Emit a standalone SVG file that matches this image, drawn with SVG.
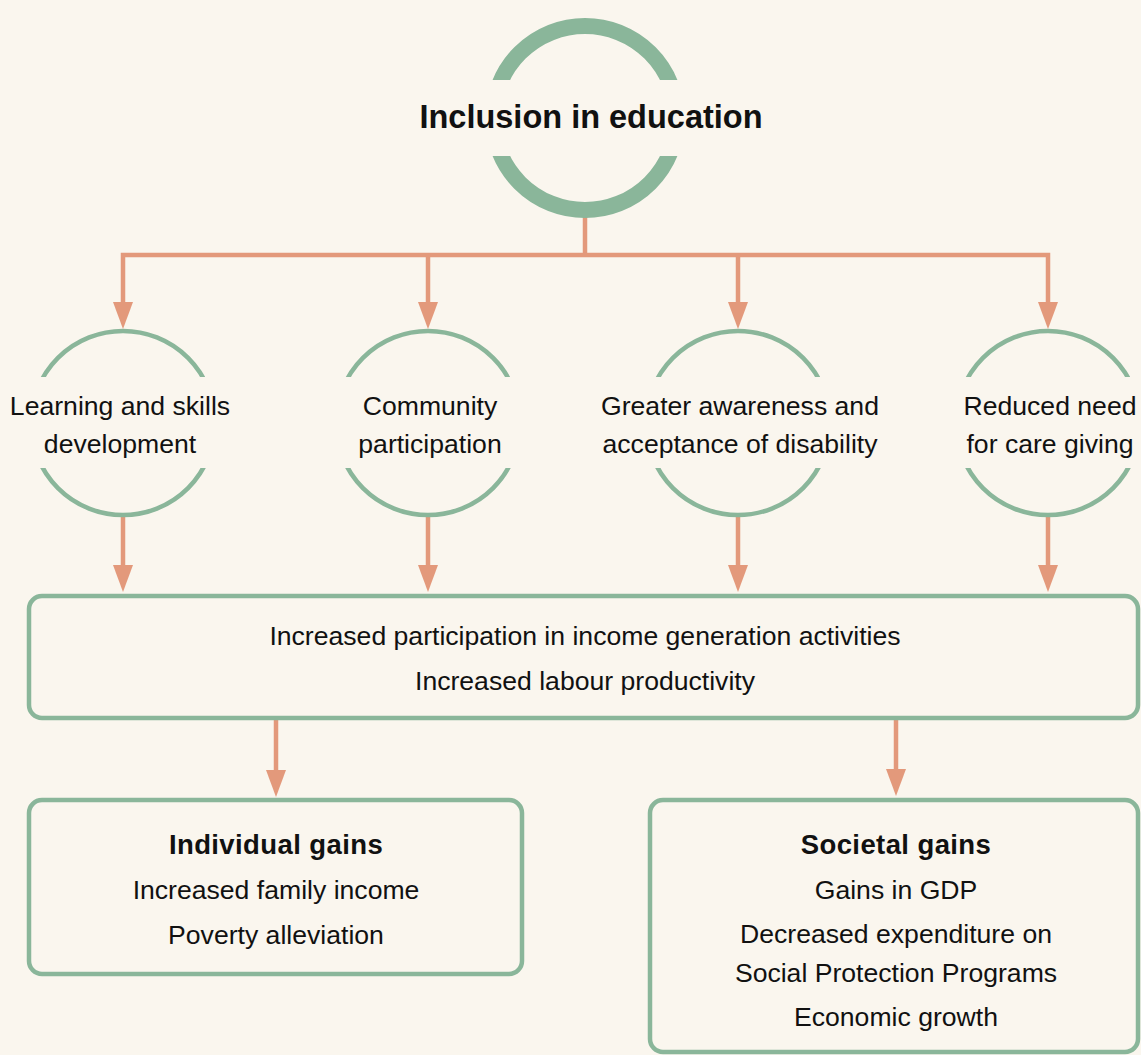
<svg xmlns="http://www.w3.org/2000/svg" width="1141" height="1055" viewBox="0 0 1141 1055">
<style>
.bg{fill:#FAF6EE}
.ring{fill:none;stroke:#8AB69A}
.box{fill:none;stroke:#8AB69A;stroke-width:4.5}
.conn{fill:none;stroke:#E3997B;stroke-width:4.5;stroke-linejoin:miter}
.t{font-family:"Liberation Sans",Arial,sans-serif;font-size:26.6px;fill:#111;text-anchor:middle}
.b{font-weight:bold;font-size:27.5px;letter-spacing:0.4px}
.title{font-family:"Liberation Sans",Arial,sans-serif;font-size:32.5px;font-weight:bold;fill:#111;text-anchor:middle}
</style>
<defs>
<clipPath id="clipBig" clipPathUnits="userSpaceOnUse">
<rect x="0" y="0" width="1141" height="80"/>
<rect x="0" y="156" width="1141" height="100"/>
</clipPath>
<clipPath id="clipSmall" clipPathUnits="userSpaceOnUse">
<rect x="0" y="300" width="1141" height="77"/>
<rect x="0" y="468" width="1141" height="80"/>
</clipPath>
<marker id="arr" viewBox="0 0 27 20" refX="17" refY="10" markerWidth="27" markerHeight="20" markerUnits="userSpaceOnUse" orient="auto">
<path d="M0 0 L27 10 L0 20 Z" fill="#E3997B"/>
</marker>
</defs>
<rect class="bg" x="0" y="0" width="1141" height="1055"/>

<g id="connectors">
<path class="conn" d="M585 217 V255"/>
<path class="conn" d="M585 255 H123 V319" marker-end="url(#arr)"/>
<path class="conn" d="M585 255 H1048 V319" marker-end="url(#arr)"/>
<path class="conn" d="M428 255 V319" marker-end="url(#arr)"/>
<path class="conn" d="M738 255 V319" marker-end="url(#arr)"/>
<path class="conn" d="M123 517 V582" marker-end="url(#arr)"/>
<path class="conn" d="M428 517 V582" marker-end="url(#arr)"/>
<path class="conn" d="M738 517 V582" marker-end="url(#arr)"/>
<path class="conn" d="M1048 517 V582" marker-end="url(#arr)"/>
<path class="conn" d="M276 720 V787" marker-end="url(#arr)"/>
<path class="conn" d="M896 720 V786" marker-end="url(#arr)"/>
</g>

<g id="inclusion">
<circle class="ring" cx="585" cy="118" r="92" stroke-width="16" clip-path="url(#clipBig)"/>
<text class="title" x="591" y="128">Inclusion in education</text>
</g>

<g id="learning">
<circle class="ring" cx="123" cy="423" r="92" stroke-width="4.5" clip-path="url(#clipSmall)"/>
<text class="t" x="120" y="415">Learning and skills</text>
<text class="t" x="120" y="453">development</text>
</g>

<g id="community">
<circle class="ring" cx="428" cy="423" r="92" stroke-width="4.5" clip-path="url(#clipSmall)"/>
<text class="t" x="430" y="415">Community</text>
<text class="t" x="430" y="453">participation</text>
</g>

<g id="awareness">
<circle class="ring" cx="738" cy="423" r="92" stroke-width="4.5" clip-path="url(#clipSmall)"/>
<text class="t" x="740" y="415">Greater awareness and</text>
<text class="t" x="740" y="453">acceptance of disability</text>
</g>

<g id="caregiving">
<circle class="ring" cx="1048" cy="423" r="92" stroke-width="4.5" clip-path="url(#clipSmall)"/>
<text class="t" x="1050" y="415">Reduced need</text>
<text class="t" x="1050" y="453">for care giving</text>
</g>

<g id="participation">
<rect class="box" x="29" y="596" width="1109" height="122" rx="13"/>
<text class="t" x="585" y="645">Increased participation in income generation activities</text>
<text class="t" x="585" y="690">Increased labour productivity</text>
</g>

<g id="individual">
<rect class="box" x="29" y="800" width="493" height="174" rx="13"/>
<text class="t b" x="276" y="854">Individual gains</text>
<text class="t" x="276" y="899">Increased family income</text>
<text class="t" x="276" y="944">Poverty alleviation</text>
</g>

<g id="societal">
<rect class="box" x="650" y="800" width="488" height="252" rx="13"/>
<text class="t b" x="896" y="854">Societal gains</text>
<text class="t" x="896" y="899">Gains in GDP</text>
<text class="t" x="896" y="943">Decreased expenditure on</text>
<text class="t" x="896" y="982">Social Protection Programs</text>
<text class="t" x="896" y="1026">Economic growth</text>
</g>
</svg>
